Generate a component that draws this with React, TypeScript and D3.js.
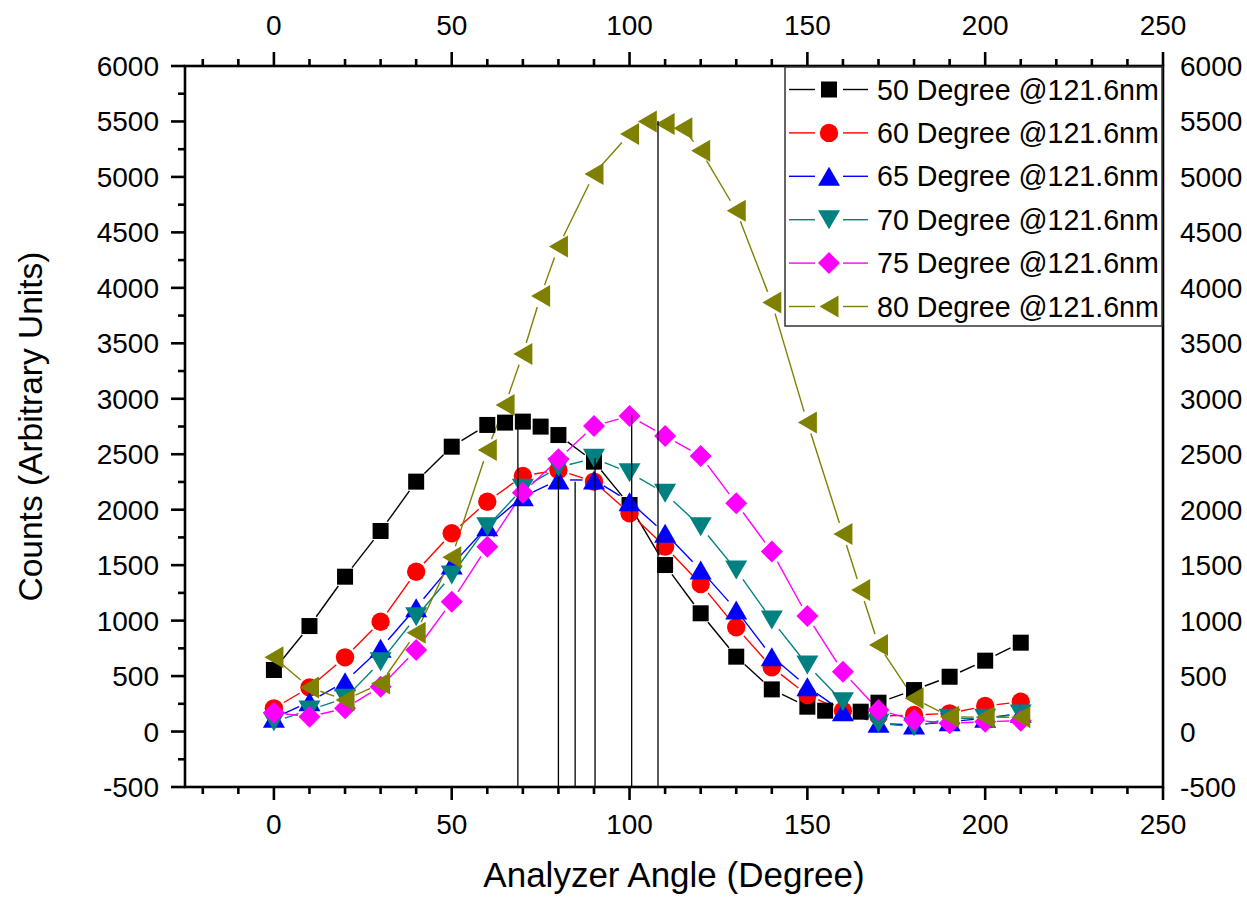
import React from 'react';
import * as d3 from 'd3';

// ---------- data ----------
const angles = [0, 10, 20, 30, 40, 50, 60, 70, 80, 90, 100, 110, 120, 130, 140, 150, 160, 170, 180, 190, 200, 210];
const angles50 = [0, 10, 20, 30, 40, 50, 60, 65, 70, 75, 80, 90, 100, 110, 120, 130, 140, 150, 155, 165, 170, 180, 190, 200, 210];
const angles80 = [0, 10, 20, 30, 40, 50, 60, 65, 70, 75, 80, 90, 100, 105, 110, 115, 120, 130, 140, 150, 160, 165, 170, 180, 190, 200, 210];

const counts50 = [555, 951, 1396, 1808, 2253, 2568, 2764, 2785, 2794, 2749, 2673, 2433, 2042, 1501, 1066, 675, 380, 224, 188, 179, 260, 374, 494, 639, 801];
const counts60 = [209, 398, 669, 990, 1441, 1787, 2072, 2304, 2358, 2253, 1968, 1667, 1330, 940, 579, 329, 188, 140, 149, 164, 230, 269];
const counts65 = [119, 269, 449, 750, 1117, 1501, 1847, 2117, 2268, 2268, 2072, 1787, 1456, 1096, 675, 404, 179, 74, 59, 89, 119, 164];
const counts70 = [89, 194, 299, 630, 1035, 1411, 1847, 2193, 2382, 2463, 2334, 2148, 1847, 1456, 1005, 600, 269, 74, 43, 119, 119, 158];
const counts75 = [170, 134, 209, 404, 735, 1171, 1667, 2153, 2454, 2755, 2845, 2665, 2484, 2058, 1622, 1041, 539, 194, 104, 74, 89, 98];
const counts80 = [669, 398, 284, 434, 891, 1571, 2538, 2944, 3404, 3927, 4372, 5027, 5388, 5499, 5478, 5439, 5237, 4696, 3867, 2785, 1781, 1276, 780, 299, 134, 128, 128];

const seriesNames = [
  '50 Degree @121.6nm',
  '60 Degree @121.6nm',
  '65 Degree @121.6nm',
  '70 Degree @121.6nm',
  '75 Degree @121.6nm',
  '80 Degree @121.6nm',
];

// peak drop lines
const peakAngles = [68.6, 80, 84.7, 90.3, 100.6, 108];
const peakCounts = [2790, 2298, 2253, 2463, 2854, 5505];

const xMajorTicks = [0, 50, 100, 150, 200, 250];
const xMinorTicks = [-20, -10, 10, 20, 30, 40, 60, 70, 80, 90, 110, 120, 130, 140, 160, 170, 180, 190, 210, 220, 230, 240];
const yMajorTicks = [-500, 0, 500, 1000, 1500, 2000, 2500, 3000, 3500, 4000, 4500, 5000, 5500, 6000];
const yMinorTicks = [-250, 250, 750, 1250, 1750, 2250, 2750, 3250, 3750, 4250, 4750, 5250, 5750];

const xTitle = 'Analyzer Angle (Degree)';
const yTitle = 'Counts (Arbitrary Units)';

// ---------- styles ----------
const colors = ['#000000', '#FF0000', '#0000FF', '#008080', '#FF00FF', '#808000'];
const shapes = ['square', 'circle', 'up', 'down', 'diamond', 'left'];
const FONT = '"Liberation Sans", Arial, Helvetica, sans-serif';

function Marker({ shape, cx, cy, color }: { shape: string; cx: number; cy: number; color: string }) {
  switch (shape) {
    case 'square':
      return <rect x={cx - 8} y={cy - 8} width={16} height={16} fill={color} />;
    case 'circle':
      return <circle cx={cx} cy={cy} r={9.2} fill={color} />;
    case 'up':
      return <polygon points={`${cx},${cy - 9.5} ${cx + 11},${cy + 9.5} ${cx - 11},${cy + 9.5}`} fill={color} />;
    case 'down':
      return <polygon points={`${cx},${cy + 9.5} ${cx + 11},${cy - 9.5} ${cx - 11},${cy - 9.5}`} fill={color} />;
    case 'diamond':
      return <polygon points={`${cx},${cy - 11} ${cx + 11},${cy} ${cx},${cy + 11} ${cx - 11},${cy}`} fill={color} />;
    case 'left':
      return <polygon points={`${cx - 9.5},${cy} ${cx + 9.5},${cy - 11} ${cx + 9.5},${cy + 11}`} fill={color} />;
    default:
      return null;
  }
}

export default function App() {
  const W = 1247;
  const H = 897;
  const left = 185, right = 1163, top = 66, bottom = 787;
  const x = d3.scaleLinear().domain([-25, 250]).range([left, right]);
  const y = d3.scaleLinear().domain([-500, 6000]).range([bottom, top]);

  const series = [
    { xs: angles50, ys: counts50 },
    { xs: angles, ys: counts60 },
    { xs: angles, ys: counts65 },
    { xs: angles, ys: counts70 },
    { xs: angles, ys: counts75 },
    { xs: angles80, ys: counts80 },
  ];

  const GAP = 11.5;
  const segs = (xs: number[], ys: number[]) => {
    const out: { x1: number; y1: number; x2: number; y2: number }[] = [];
    for (let i = 0; i < xs.length - 1; i++) {
      const ax = x(xs[i]), ay = y(ys[i]), bx = x(xs[i + 1]), by = y(ys[i + 1]);
      const d = Math.hypot(bx - ax, by - ay);
      if (d <= 2 * GAP + 1) continue;
      const ux = (bx - ax) / d, uy = (by - ay) / d;
      out.push({ x1: ax + ux * GAP, y1: ay + uy * GAP, x2: bx - ux * GAP, y2: by - uy * GAP });
    }
    return out;
  };

  const axisW = 2.6;
  const legendX = 785, legendY = 67, legendW = 377, legendH = 259;
  const rowY0 = 89.5, rowStep = 43.4;

  return (
    <svg width={W} height={H} viewBox={`0 0 ${W} ${H}`} style={{ position: 'absolute', left: 0, top: 0, display: 'block', background: '#fff' }}>
      <rect x={0} y={0} width={W} height={H} fill="#fff" />

      {/* series lines */}
      {series.map((s, si) => (
        <g key={'l' + si} stroke={colors[si]} strokeWidth={1.4}>
          {segs(s.xs, s.ys).map((g, i) => (
            <line key={i} x1={g.x1} y1={g.y1} x2={g.x2} y2={g.y2} />
          ))}
        </g>
      ))}

      {/* markers */}
      {series.map((s, si) => (
        <g key={'m' + si}>
          {s.xs.map((v, i) => (
            <Marker key={i} shape={shapes[si]} cx={x(v)} cy={y(s.ys[i])} color={colors[si]} />
          ))}
        </g>
      ))}

      {/* peak drop lines */}
      {peakAngles.map((a, i) => (
        <line key={'p' + i} x1={x(a)} x2={x(a)} y1={y(peakCounts[i])} y2={bottom} stroke="#000" strokeWidth={1.3} />
      ))}

      {/* frame */}
      <rect x={left} y={top} width={right - left} height={bottom - top} fill="none" stroke="#000" strokeWidth={axisW} />

      {/* bottom & top ticks */}
      <g stroke="#000" strokeWidth={axisW}>
        {xMajorTicks.map((t) => (
          <g key={'xb' + t}>
            <line x1={x(t)} x2={x(t)} y1={bottom} y2={bottom + 13} />
            <line x1={x(t)} x2={x(t)} y1={top} y2={top - 14} />
          </g>
        ))}
        {xMinorTicks.map((t) => (
          <g key={'xm' + t}>
            <line x1={x(t)} x2={x(t)} y1={bottom} y2={bottom + 7} />
            <line x1={x(t)} x2={x(t)} y1={top} y2={top - 7} />
          </g>
        ))}
        {yMajorTicks.map((t) => (
          <line key={'yl' + t} x1={left} x2={left - 14} y1={y(t)} y2={y(t)} />
        ))}
        {yMinorTicks.map((t) => (
          <line key={'ym' + t} x1={left} x2={left - 7} y1={y(t)} y2={y(t)} />
        ))}
      </g>

      {/* tick labels */}
      <g fontFamily={FONT} fontSize={28} fill="#000">
        {xMajorTicks.map((t) => (
          <text key={'xbl' + t} x={x(t)} y={834} textAnchor="middle">{t}</text>
        ))}
        {xMajorTicks.map((t) => (
          <text key={'xtl' + t} x={x(t)} y={35} textAnchor="middle">{t}</text>
        ))}
        {yMajorTicks.map((t) => (
          <text key={'yll' + t} x={159} y={y(t) + 10} textAnchor="end">{t}</text>
        ))}
        {yMajorTicks.map((t) => (
          <text key={'yrl' + t} x={1180} y={y(t) + 10} textAnchor="start">{t}</text>
        ))}
      </g>

      {/* axis titles */}
      <text x={(left + right) / 2} y={887} textAnchor="middle" fontFamily={FONT} fontSize={35} fill="#000">{xTitle}</text>
      <text transform={`translate(42, ${(top + bottom) / 2}) rotate(-90)`} textAnchor="middle" fontFamily={FONT} fontSize={33.5} fill="#000">{yTitle}</text>

      {/* legend */}
      <rect x={legendX} y={legendY} width={legendW} height={legendH} fill="#fff" stroke="#333" strokeWidth={1.5} />
      {seriesNames.map((name, i) => {
        const cy = rowY0 + i * rowStep;
        return (
          <g key={'lg' + i}>
            <line x1={789} x2={815} y1={cy} y2={cy} stroke={colors[i]} strokeWidth={1.4} />
            <line x1={843} x2={868} y1={cy} y2={cy} stroke={colors[i]} strokeWidth={1.4} />
            <Marker shape={shapes[i]} cx={829} cy={cy} color={colors[i]} />
            <text x={877} y={cy + 10} fontFamily={FONT} fontSize={28.6} fill="#000">{name}</text>
          </g>
        );
      })}
    </svg>
  );
}
